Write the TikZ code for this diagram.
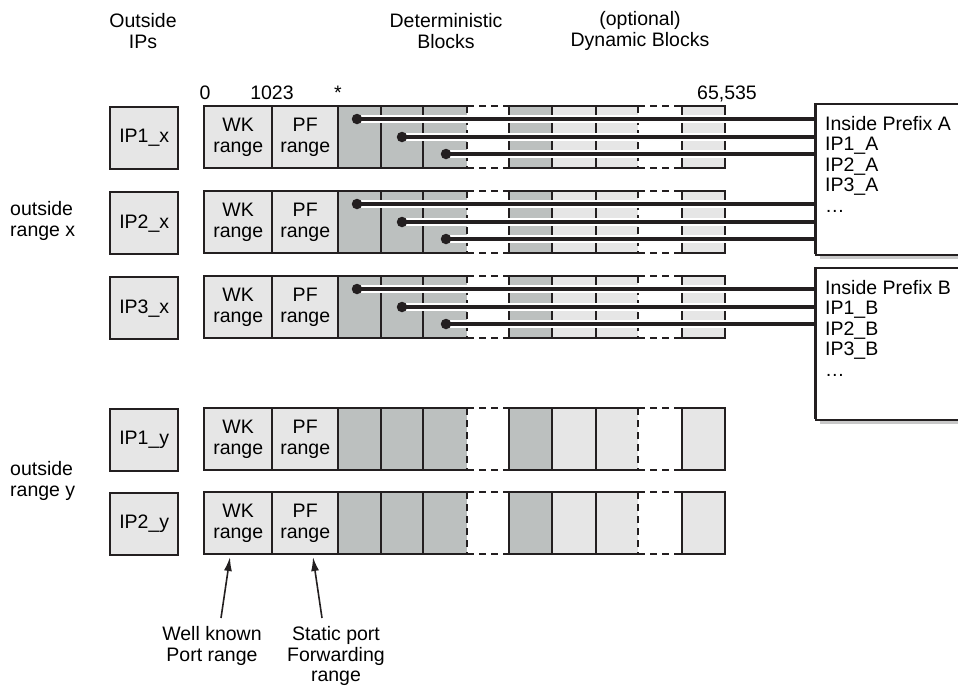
\documentclass[tikz,border=0pt]{standalone}
\usepackage{fontspec}
\setmainfont{Liberation Sans}
\usetikzlibrary{arrows.meta}
\definecolor{ink}{HTML}{231F20}
\definecolor{lgray}{HTML}{E6E6E6}
\definecolor{dgray}{HTML}{BCC0BF}
\definecolor{shadowc}{HTML}{C8C8C8}
\newcommand\myfs{\fontsize{19.5}{20.5}\selectfont}
\tikzset{
 bd/.style={draw=ink, line width=2.4pt},
 dsh/.style={draw=ink, line width=2.4pt, dash pattern=on 7pt off 5pt},
 fillcell/.style={inner sep=0pt, minimum height=62pt, anchor=north west, align=center},
 ipbox/.style={draw=ink, line width=2.4pt, fill=lgray, inner sep=0pt, minimum width=68pt, minimum height=62pt, anchor=north west},
 conn/.style={draw=ink, line width=3.6pt, preaction={draw=white, line width=7.5pt}},
 dot/.style={circle, fill=ink, inner sep=0pt, minimum size=10.5pt},
 lbl/.style={inner sep=0pt, align=center},
 prefbox/.style={draw=ink, line width=2.4pt, fill=white, minimum width=170pt, anchor=north west, inner sep=0pt},
 arr/.style={draw=ink, line width=1.6pt, -{Latex[length=14pt,width=8pt]}},
}
\newcommand\portrow[3]{%
 \pgfmathsetmacro\rowbot{#2+62}%
 \node[ipbox] (ip#1) at (109,#2) {#3};
 \node[fillcell, fill=lgray, minimum width=68pt] (wk#1) at (204,#2) {WK\\range};
 \node[fillcell, fill=lgray, minimum width=66pt] (pf#1) at (272,#2) {PF\\range};
 \node[fillcell, fill=dgray, minimum width=43pt] (ga#1) at (338,#2) {};
 \node[fillcell, fill=dgray, minimum width=42pt] (gb#1) at (381,#2) {};
 \node[fillcell, fill=dgray, minimum width=44pt] (gc#1) at (423,#2) {};
 \node[fillcell, fill=dgray, minimum width=43pt] (da#1) at (509,#2) {};
 \node[fillcell, fill=lgray, minimum width=44pt] (la#1) at (552,#2) {};
 \node[fillcell, fill=lgray, minimum width=42pt] (lb#1) at (596,#2) {};
 \node[fillcell, fill=lgray, minimum width=43pt] (lc#1) at (682,#2) {};
 \draw[bd] (467,#2) -- (204,#2) -- (204,\rowbot) -- (467,\rowbot);
 \draw[bd] (272,#2) -- (272,\rowbot) (338,#2) -- (338,\rowbot) (381,#2) -- (381,\rowbot) (423,#2) -- (423,\rowbot);
 \draw[dsh] (467,#2) -- (509,#2) (467,\rowbot) -- (509,\rowbot) (467,#2) -- (467,\rowbot);
 \draw[bd] (638,#2) -- (509,#2) -- (509,\rowbot) -- (638,\rowbot) (552,#2) -- (552,\rowbot) (596,#2) -- (596,\rowbot);
 \draw[dsh] (638,#2) -- (682,#2) (638,\rowbot) -- (682,\rowbot) (638,#2) -- (638,\rowbot);
 \draw[bd] (682,#2) rectangle (725,\rowbot);
}
\newcommand\rowdots[2]{%
 \coordinate (p#1a) at (357,#2+13);
 \coordinate (p#1b) at (402,#2+31);
 \coordinate (p#1c) at (446,#2+48);
}
\begin{document}
\begin{tikzpicture}[x=1pt,y=-1pt,font=\myfs]
\useasboundingbox (0,0) rectangle (958,691);
% headers
\node[lbl] (hout) at (143,31) {Outside\\IPs};
\node[lbl] (hdet) at (446,31) {Deterministic\\Blocks};
\node[lbl] (hdyn) at (640,31) {(optional)\\Dynamic Blocks};
% scale labels
\node[anchor=base, inner sep=0pt] (s0) at (205,99) {0};
\node[anchor=base, inner sep=0pt] (s1023) at (272,99) {1023};
\node[anchor=base, inner sep=0pt] (sstar) at (338,99) {*};
\node[anchor=base, inner sep=0pt] (smax) at (727,99) {65,535};
% side labels
\node[lbl, anchor=west, align=left] (rx) at (10,221) {outside\\range x};
\node[lbl, anchor=west, align=left] (ry) at (10,481) {outside\\range y};
% rows
\portrow{1}{106}{IP1\_x}
\portrow{2}{191}{IP2\_x}
\portrow{3}{276}{IP3\_x}
\portrow{4}{408}{IP1\_y}
\portrow{5}{492}{IP2\_y}
\rowdots{1}{106}
\rowdots{2}{191}
\rowdots{3}{276}
% prefix boxes
\fill[shadowc] (820,108) rectangle (980,259);
\node[prefbox, minimum height=151pt] (pa) at (815,103) {};
\fill[shadowc] (820,272) rectangle (980,424);
\node[prefbox, minimum height=152pt] (pb) at (815,267) {};
\node[lbl, anchor=north west, align=left] (ta) at (825,116) {Inside Prefix A\\IP1\_A\\IP2\_A\\IP3\_A\\…};
\node[lbl, anchor=north west, align=left] (tb) at (825,280) {Inside Prefix B\\IP1\_B\\IP2\_B\\IP3\_B\\…};
% connectors
\foreach \r/\tgt in {1/pa,2/pa,3/pb}{
  \foreach \c in {a,b,c}{
    \draw[conn] (p\r\c) -- (p\r\c -| \tgt.west);
  }
}
\foreach \r in {1,2,3}{
  \foreach \c in {a,b,c}{
    \node[dot] (d\r\c) at (p\r\c) {};
  }
}
\draw[bd] (815,103) -- (815,254) (815,267) -- (815,419);
% bottom annotations
\node[lbl] (wkl) at (212,646) {Well known\\Port range};
\node[lbl] (pfl) at (336,656) {Static port\\Forwarding\\range};
\coordinate (wkt) at (221,618);
\coordinate (wkh) at (230,557);
\coordinate (pft) at (322,618);
\coordinate (pfh) at (313,557);
\draw[arr] (wkt) -- (wkh);
\draw[arr] (pft) -- (pfh);
\end{tikzpicture}
\end{document}
